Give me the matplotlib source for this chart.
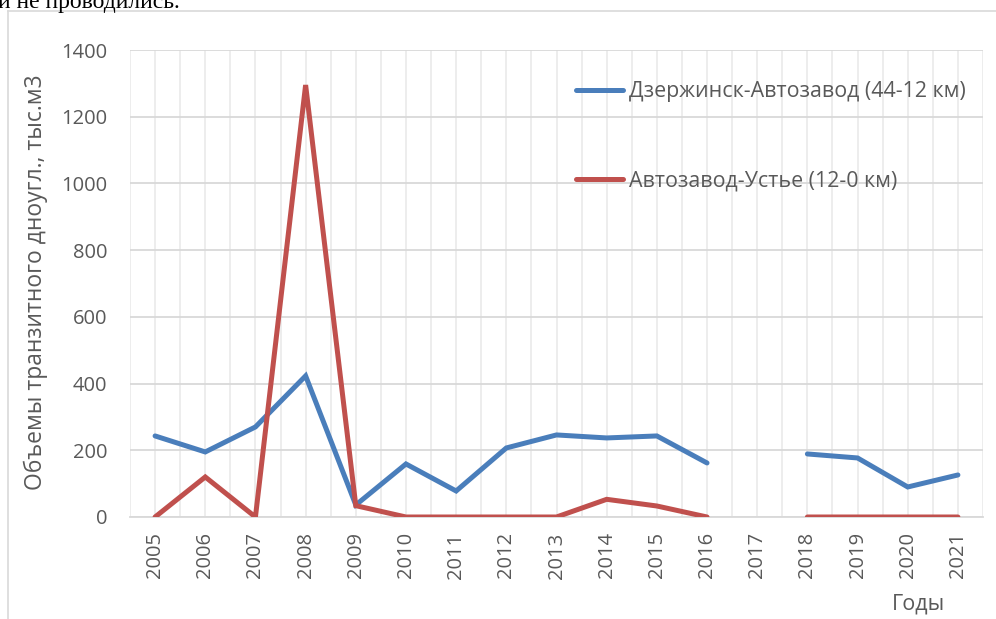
import numpy as np
import matplotlib
matplotlib.use('Agg')
import matplotlib.pyplot as plt
from matplotlib.lines import Line2D

blue = (74/255, 126/255, 187/255)
red = (192/255, 80/255, 77/255)
txt = '#595959'

years = ['2005', '2006', '2007', '2008', '2009', '2010', '2011', '2012', '2013',
         '2014', '2015', '2016', '2017', '2018', '2019', '2020', '2021']
dzer_avto = [243, 195, 270, 423, 36, 159, 78, 207, 246,
             237, 243, 162, np.nan, 189, 177, 90, 126]
avto_uste = [0, 120, 0, 1295, 34, 0, 0, 0, 0,
             53, 33, 0, np.nan, 0, 0, 0, 0]
labels = ['Дзержинск-Автозавод (44-12 км)', 'Автозавод-Устье (12-0 км)']

plt.rcParams['font.family'] = ['Open Sans', 'DejaVu Sans']

W, H = 996, 619
fig = plt.figure(figsize=(W/100, H/100), dpi=100)
ax = fig.add_axes([130/W, 1 - 517/H, (983 - 130)/W, (517 - 50)/H])

x = np.arange(len(years))
ax.plot(x, dzer_avto, color=blue, lw=3.6, solid_capstyle='round', solid_joinstyle='miter', label=labels[0], zorder=3)
ax.plot(x, avto_uste, color=red, lw=3.6, solid_capstyle='round', solid_joinstyle='miter', label=labels[1], zorder=3)

ax.set_xlim(-0.5, len(years) - 0.5)
ax.set_ylim(0, 1400)
ax.set_yticks(range(0, 1401, 200))
ax.set_xticks(x)
ax.set_xticks(np.arange(-0.5, len(years), 1), minor=True)
ax.set_xticklabels(years, rotation=90)
ax.tick_params(axis='both', length=0, colors=txt, labelsize=14.5)
ax.tick_params(axis='x', which='minor', length=0)
ax.tick_params(axis='x', pad=11)
ax.tick_params(axis='y', pad=16.5)

ax.grid(axis='y', color='#d9d9d9', lw=1.3, zorder=0)
ax.grid(axis='x', which='both', color='#ececec', lw=1.3, zorder=0)
ax.set_axisbelow(True)
for s in ['top', 'right', 'left']:
    ax.spines[s].set_visible(False)
ax.spines['bottom'].set_color('#d9d9d9')
ax.spines['bottom'].set_linewidth(1.3)

ax.set_ylabel('Объемы транзитного дноугл., тыс.м3', color=txt, fontsize=16.5)
ax.yaxis.set_label_coords(-82/(983 - 130), (517 - 282)/(517 - 50))
fig.text(945/W, 1 - 610/H, 'Годы', color=txt, fontsize=15.5, ha='right', va='baseline')

leg = ax.legend(loc='upper left', bbox_to_anchor=(575.5/W, 1 - 81/H), bbox_transform=fig.transFigure,
                frameon=False, fontsize=15.4, labelcolor=txt, handlelength=2.2, handletextpad=0.3,
                labelspacing=3.2, borderaxespad=0, borderpad=0)

# frame of the embedded chart
fig.add_artist(Line2D([7.5/W, 7.5/W], [0, 1 - 11/H], color='#d9d9d9', lw=1.2, transform=fig.transFigure))
fig.add_artist(Line2D([7.5/W, 1], [1 - 11/H, 1 - 11/H], color='#d9d9d9', lw=1.2, transform=fig.transFigure))

# cut-off document text above the chart
fig.text(-2/W, 1 - 8/H, 'и не проводились.', family='Liberation Serif', fontsize=17, color='black',
         ha='left', va='baseline')

fig.savefig('out.png', dpi=100)
